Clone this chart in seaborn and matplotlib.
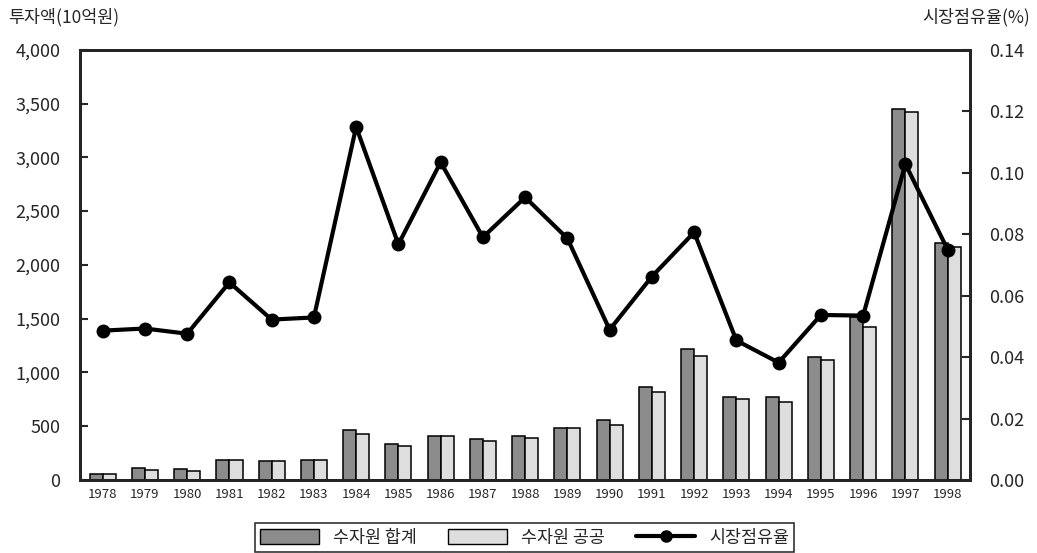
import pandas as pd
import numpy as np
import matplotlib
matplotlib.use('Agg')
import matplotlib.pyplot as plt
import seaborn as sns
from matplotlib.patches import Patch
from matplotlib.lines import Line2D

years = [str(y) for y in range(1978, 1999)]
total = [53, 112, 100, 190, 180, 188, 465, 335, 412, 384, 409, 484, 555, 865, 1215,
         772, 775, 1141, 1516, 3453, 2201]
public = [53, 90, 82, 190, 180, 188, 431, 316, 412, 366, 391, 484, 511, 821, 1156,
          750, 725, 1113, 1426, 3425, 2167]
share = [0.0486, 0.0493, 0.0476, 0.0643, 0.0522, 0.0529, 0.1149, 0.0767, 0.1034, 0.0790,
         0.0920, 0.0786, 0.0489, 0.0662, 0.0806, 0.0454, 0.0382, 0.0537, 0.0535, 0.1028, 0.0750]
series_names = ['수자원 합계', '수자원 공공']
line_name = '시장점유율'

sns.set_style('white')
plt.rcParams['font.family'] = ['Noto Sans CJK KR', 'DejaVu Sans']

df = pd.DataFrame({'year': years * 2,
                   'value': total + public,
                   'series': [series_names[0]] * len(years) + [series_names[1]] * len(years)})

fig = plt.figure(figsize=(10.37, 5.53), dpi=100)
ax = fig.add_axes([0.077, 0.132, 0.858, 0.778])
colors = {series_names[0]: '#8c8c8c', series_names[1]: '#dedede'}
sns.barplot(data=df, x='year', y='value', hue='series', palette=colors, width=0.62,
            edgecolor='black', linewidth=1.1, ax=ax, legend=False)
ax.set_xlim(-0.54, 20.52)
ax.set_ylim(0, 4000)
ax.set_yticks(range(0, 4001, 500))
ax.set_yticklabels([f'{v:,}' for v in range(0, 4001, 500)], fontsize=13)
ax.set_xlabel('')
ax.set_ylabel('')
ax.tick_params(axis='x', length=0, labelsize=9.5, pad=6)
ax.tick_params(axis='y', direction='in', length=6, width=1.5, pad=14)
for s in ax.spines.values():
    s.set_linewidth(2)
    s.set_color('black')

ax2 = ax.twinx()
ax2.plot(np.arange(len(years)), share, color='black', lw=3, marker='o', ms=9)
ax2.set_ylim(0, 0.14)
ax2.set_yticks(np.arange(0, 0.141, 0.02))
ax2.set_yticklabels([f'{v:.2f}' for v in np.arange(0, 0.141, 0.02)], fontsize=13)
ax2.tick_params(axis='y', direction='in', length=6, width=1.5, pad=14)
for s in ax2.spines.values():
    s.set_linewidth(2)

fig.text(0.008, 0.968, '투자액(10억원)', fontsize=12.5, va='center', ha='left')
fig.text(0.993, 0.968, '시장점유율(%)', fontsize=12.5, va='center', ha='right')

handles = [Patch(facecolor='#8c8c8c', edgecolor='black', label=series_names[0]),
           Patch(facecolor='#dedede', edgecolor='black', label=series_names[1]),
           Line2D([], [], color='black', lw=3, marker='o', ms=8, label=line_name)]
leg = fig.legend(handles=handles, loc='center', bbox_to_anchor=(0.506, 0.028), ncol=3,
                 fontsize=12.5, frameon=True, fancybox=False, edgecolor='black',
                 handlelength=3.4, handleheight=0.9, columnspacing=1.8, borderpad=0.3,
                 borderaxespad=0.3)
leg.get_frame().set_linewidth(1.2)

plt.savefig('out.png', dpi=100)
